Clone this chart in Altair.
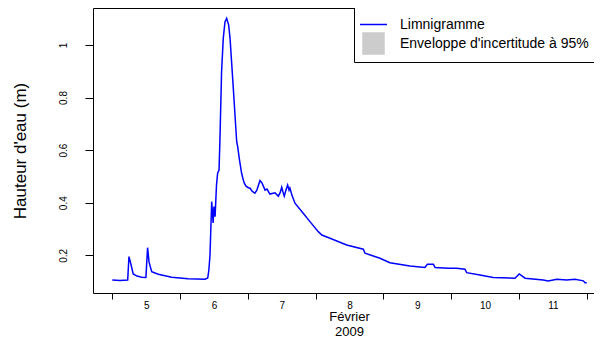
import altair as alt
import pandas as pd

# Hours since 5 Feb 2009 00:00 and water height (m)
heures = [0, 2.7, 5.45, 5.9, 6.4, 7.4, 8.75, 10.4, 11.9, 12.5, 13.0, 13.95, 16.3, 21.0, 26.8,
          32.8, 33.8, 34.2, 34.6, 35.2, 35.7, 36.0, 36.4, 36.9, 37.3, 37.8, 38.1, 38.7, 39.3,
          39.9, 40.5, 41.2, 41.7, 42.85, 44.05, 44.4, 45.05, 45.8, 46.4, 46.75, 47.35, 48.2,
          48.8, 49.5, 50.5, 51.2, 52.3, 53.0, 54.1, 54.8, 55.8, 57.6, 58.8, 59.4, 60.0, 60.45,
          60.9, 61.5, 62.1, 62.6, 62.9, 63.6, 64.7, 67.6, 70.0, 72.95, 74.2, 77.1, 83.0, 88.9,
          89.5, 94.8, 98.3, 105.4, 110.7, 111.6, 113.7, 114.3, 119.0, 122.0, 124.9, 125.5,
          130.2, 134.9, 142.6, 144.1, 146.2, 152.6, 154.4, 157.4, 160.9, 163.9, 166.8, 167.4,
          168.0]
hauteur = [0.106, 0.104, 0.106, 0.195, 0.175, 0.129, 0.121, 0.117, 0.116, 0.229, 0.175, 0.138,
           0.128, 0.117, 0.111, 0.109, 0.114, 0.144, 0.201, 0.404, 0.323, 0.385, 0.347, 0.467,
           0.512, 0.524, 0.632, 0.898, 1.025, 1.087, 1.101, 1.076, 1.025, 0.835, 0.632, 0.613,
           0.562, 0.512, 0.486, 0.474, 0.463, 0.457, 0.455, 0.444, 0.436, 0.448, 0.484, 0.475,
           0.448, 0.452, 0.433, 0.438, 0.425, 0.437, 0.459, 0.441, 0.425, 0.448, 0.467, 0.448,
           0.456, 0.429, 0.398, 0.360, 0.328, 0.290, 0.277, 0.265, 0.239, 0.223, 0.208, 0.189,
           0.172, 0.159, 0.154, 0.166, 0.166, 0.154, 0.151, 0.151, 0.147, 0.134, 0.125, 0.116,
           0.113, 0.129, 0.113, 0.106, 0.102, 0.109, 0.106, 0.109, 0.103, 0.096, 0.096]

jours = [5, 6, 7, 8, 9, 10, 11, 12]
y_ticks = [0.2, 0.4, 0.6, 0.8, 1.0]
series = ["Limnigramme", "Enveloppe d'incertitude à 95%"]
couleurs = ["#0000ff", "#cccccc"]
formes = ["stroke", "square"]
tailles = [729, 441]

df = pd.DataFrame({"jour": [5 + h / 24 for h in heures], "hauteur": hauteur})
leg = pd.DataFrame({"serie": series, "jour": [None, None], "hauteur": [None, None]})

FONT = "Liberation Sans"
W, H = 501, 285
xscale = alt.Scale(domain=[4.7152, 12.1078], nice=False, zero=False)
yscale = alt.Scale(domain=[0.0567, 1.1403], nice=False, zero=False)

line = alt.Chart(df).mark_line(color="#0000ff", strokeWidth=1.5).encode(
    x=alt.X("jour:Q", scale=xscale,
            axis=alt.Axis(values=jours, format="d",
                          labelExpr="datum.value < 12 ? datum.label : ''",
                          labelOffset=33.9, labelFlush=False, labelOverlap=False,
                          tickSize=6, labelPadding=1, labelFontSize=10, labelAngle=0,
                          grid=False, domainColor="black", tickColor="black",
                          labelColor="black", labelFont=FONT,
                          title=["Février", "2009"], titleFont=FONT, titleFontSize=13,
                          titleFontWeight="normal", titleColor="black",
                          titleX=256, titleY=17.5, titleAlign="center",
                          titleBaseline="top", titleLineHeight=14.5)),
    y=alt.Y("hauteur:Q", scale=yscale,
            axis=alt.Axis(values=y_ticks, format="~g", labelAngle=270,
                          labelAlign="center", labelBaseline="middle",
                          tickSize=8, labelPadding=22, labelFontSize=10,
                          grid=False, domainColor="black", tickColor="black",
                          labelColor="black", labelFont=FONT,
                          title="Hauteur d'eau (m)", titleFont=FONT, titleFontSize=17,
                          titleFontWeight="normal", titleColor="black",
                          titleAngle=270, titleX=-73, titleY=142.5,
                          titleAlign="center", titleBaseline="middle")),
)

legend_def = alt.Legend(orient="none", legendX=261, legendY=-3, title=None,
                        strokeColor="black", fillColor="white", padding=5,
                        labelFont=FONT, labelFontSize=14, labelColor="black",
                        labelOffset=12, labelLimit=400, symbolStrokeWidth=1.5,
                        rowPadding=-5, cornerRadius=0)

legend_layer = alt.Chart(leg).mark_point(filled=True, opacity=1).encode(
    x=alt.X("jour:Q", scale=xscale,
            axis=alt.Axis(orient="top", labels=False, ticks=False, title=None,
                          grid=False, domainColor="black")),
    y=alt.Y("hauteur:Q", scale=yscale, axis=None),
    fill=alt.Fill("serie:N", scale=alt.Scale(domain=series, range=couleurs), legend=legend_def),
    stroke=alt.Stroke("serie:N", scale=alt.Scale(domain=series, range=couleurs), legend=legend_def),
    shape=alt.Shape("serie:N", scale=alt.Scale(domain=series, range=formes), legend=legend_def),
    size=alt.Size("serie:N", scale=alt.Scale(domain=series, range=tailles), legend=legend_def),
)

chart = alt.layer(line, legend_layer).resolve_axis(x="independent", y="independent").properties(
    width=W, height=H,
    autosize=alt.AutoSizeParams(type="none"),
    padding={"left": 85, "top": 0, "right": 0, "bottom": 46},
).configure_view(stroke=None)

chart.save("out.html", embed_options={"renderer": "svg", "actions": False})
